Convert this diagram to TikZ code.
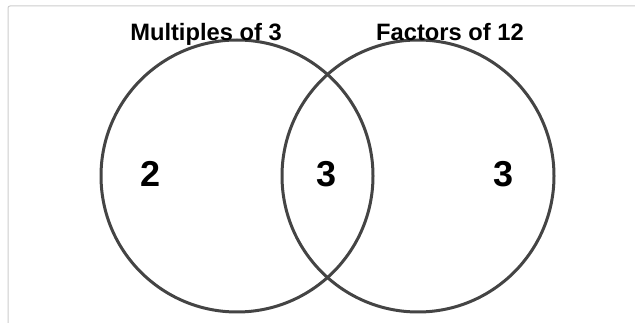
\documentclass[tikz,border=0pt]{standalone}
\usepackage{fontspec}
\setmainfont{Liberation Sans}
\definecolor{ringgray}{RGB}{68,68,68}
\definecolor{framegray}{RGB}{204,204,204}

\begin{document}
\begin{tikzpicture}[x=1pt,y=-1pt,
  setring/.style={draw=ringgray, line width=3pt, circle, minimum size=272pt, inner sep=0pt},
  settitle/.style={font={\bfseries\fontsize{23.7}{28}\selectfont}, anchor=base, inner sep=0pt},
  setcount/.style={font={\bfseries\fontsize{36}{40}\selectfont}, anchor=base, inner sep=0pt}]
\useasboundingbox (0,0) rectangle (635,323);
\draw[framegray, line width=1pt, rounded corners=2pt] (8,323) -- (8,6) -- (635,6);
\node[setring] (multiples) at (237,176) {};
\node[setring] (factors) at (418,176) {};
\node[settitle] (multlabel) at (206,41) {Multiples of 3};
\node[settitle] (factlabel) at (450,41) {Factors of 12};
\node[setcount] (onlymult) at (151,186.5) {2};
\node[setcount] (both) at (327,186.5) {3};
\node[setcount] (onlyfact) at (504,186.5) {3};
\end{tikzpicture}
\end{document}
